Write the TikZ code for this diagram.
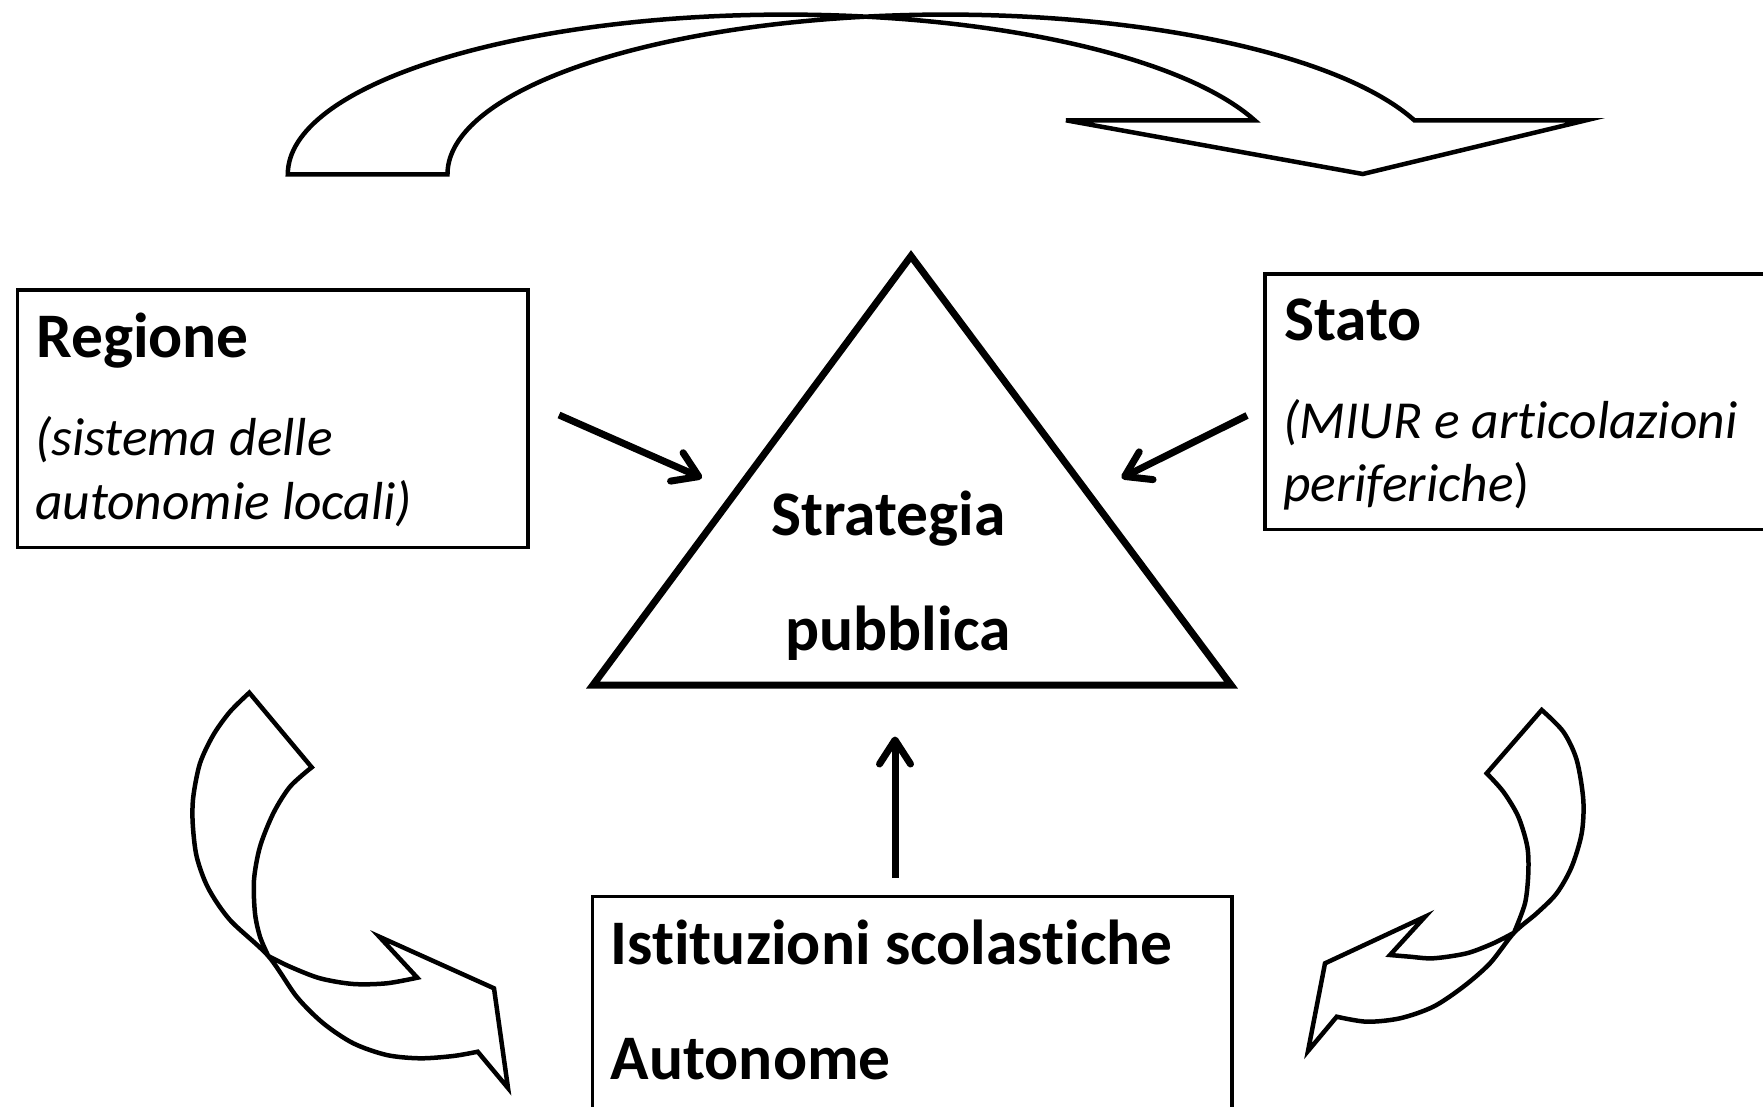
\documentclass[tikz,border=0pt]{standalone}
\usepackage{fontspec}
\setmainfont{Carlito}[Ligatures={NoCommon,NoContextual}]
\usetikzlibrary{arrows.meta}
\begin{document}
\begin{tikzpicture}[x=1pt,y=-1pt,
  box/.style={draw, line width=3.5pt, inner sep=0pt, anchor=north west},
  bt/.style={anchor=base west, inner sep=0pt, font=\fontsize{63.5}{75}\selectfont\bfseries},
  it/.style={anchor=base west, inner sep=0pt, font=\fontsize{53.5}{63}\selectfont\itshape},
  tri/.style={draw, line width=7pt, miter limit=20},
  curv/.style={draw, line width=4.5pt},
  arr/.style={line width=7pt, -{Straight Barb[length=24pt,width=31pt,round]}}]
\useasboundingbox (0,0) rectangle (1763,1107);
\clip (0,0) rectangle (1763,1107);
\fill[white] (0,0) rectangle (1763,1107);

% boxes
\node[box, minimum width=510.5pt, minimum height=257.5pt] (reg) at (15.6,288) {};
\node[box, minimum width=537pt, minimum height=255.5pt] (stato) at (1263.3,272.3) {};
\node[box, minimum width=639.8pt, minimum height=235pt] (ist) at (590.5,894.7) {};

% triangle
\coordinate (tA) at (911,256);
\coordinate (tB) at (593,685);
\coordinate (tC) at (1231,685);
\draw[tri] (tA) -- (tB) -- (tC) -- cycle;

% texts
\node[bt] (regT) at (36,357.6) {Regione};
\node[it] (regS1) at (35,455.4) {(sistema delle};
\node[it] (regS2) at (35,519.5) {autonomie locali)};
\node[bt] (statoT) at (1284,340.7) {Stato};
\node[it] (statoS1) at (1283,438.5) {(MIUR e articolazioni};
\node[it] (statoS2) at (1283,501.5) {periferiche\upshape)};
\node[bt, anchor=base] (strat1) at (888.5,535) {Strategia};
\node[bt, anchor=base] (strat2) at (898,650) {pubblica};
\node[bt] (ist1) at (610.5,964.7) {Istituzioni scolastiche};
\node[bt] (ist2) at (610.5,1079.4) {Autonome};

% straight arrows
\coordinate (a1s) at (559,415);   \coordinate (a1e) at (702,478);
\coordinate (a2s) at (1247,415.5); \coordinate (a2e) at (1121.5,478);
\coordinate (a3s) at (895,878);   \coordinate (a3e) at (895,736.5);
\draw[arr] (a1s) -- (a1e);
\draw[arr] (a2s) -- (a2e);
\draw[arr] (a3s) -- (a3e);

% top curved arrow
\draw[curv] (287.8,174.3) arc[start angle=180,end angle=19.77,x radius=498.1pt,y radius=159.7pt]
  -- (1066,120.3) -- (1362.8,174) -- (1586,120.3) -- (1414.3,120.3)
  arc[start angle=19.77,end angle=180,x radius=498.1pt,y radius=159.7pt] -- cycle;

% bottom-left curved arrow
\draw[curv] plot[smooth] coordinates {(249.3,692.7) (230,711.7) (213.3,735) (200,763.3) (193.3,796.7) (192.7,823.3) (196.7,856.7) (208.3,888.3) (230,920) (268.3,956) (296.7,996.7) (323.3,1023.3) (353.3,1043.3) (386.7,1055) (420,1058.3) (453.3,1056) (477.7,1051.7)}
  -- (508,1088) -- (494,988.3) -- (379.3,936.7) -- (417.3,977.7)
  -- plot[smooth] coordinates {(417.3,977.7) (386.7,983.3) (353.3,984) (320,978.3) (290,966.7) (268.3,956)}
  -- plot[smooth] coordinates {(268.3,956) (260,936.7) (255,913.3) (254,880) (260,846.7) (273.3,813.3) (290,786.7) (311.7,767.3)}
  -- cycle;

% bottom-right curved arrow
\draw[curv] plot[smooth] coordinates {(1541.7,710) (1563.3,731.7) (1576.7,760) (1583.3,800) (1581.7,833.3) (1571.7,866.7) (1556.7,893.3) (1536.7,913.3) (1514,932.7) (1490,963.3) (1463.3,986.7) (1433.3,1006.7) (1400,1018.3) (1366.7,1021.7) (1336.7,1016.7)}
  -- (1308,1051) -- (1325,963.3) -- (1425,916.7) -- (1390,955)
  -- plot[smooth] coordinates {(1390,955) (1410,956.7) (1433.3,958.3) (1466.7,953.3) (1493.3,943.3) (1514,932.7)}
  -- plot[smooth] coordinates {(1514,932.7) (1525,903.3) (1528.3,873.3) (1527.3,846.7) (1518.3,816.7) (1503.3,791.7) (1486.7,773.3)}
  -- cycle;
\end{tikzpicture}
\end{document}
